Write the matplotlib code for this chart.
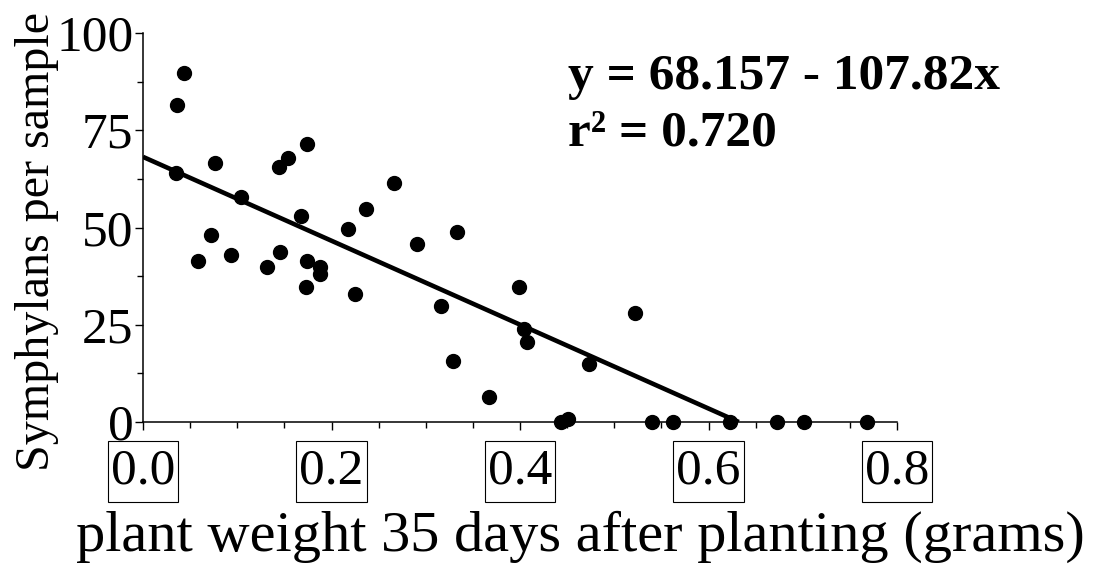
import matplotlib
matplotlib.use("Agg")
import matplotlib.pyplot as plt
import numpy as np
from matplotlib.ticker import MultipleLocator
from matplotlib.path import Path

plant_weight = [0.043, 0.036, 0.035, 0.076, 0.104, 0.144, 0.154, 0.174, 0.266, 0.237,
                0.218, 0.168, 0.072, 0.058, 0.093, 0.132, 0.145, 0.174, 0.188, 0.188,
                0.173, 0.225, 0.291, 0.333, 0.316, 0.329, 0.367, 0.399, 0.404, 0.407,
                0.473, 0.522, 0.444, 0.451, 0.540, 0.562, 0.623, 0.673, 0.701, 0.768]
symphylans = [89.8, 81.5, 63.9, 66.5, 57.9, 65.6, 67.9, 71.5, 61.5, 54.7,
              49.6, 53.0, 48.1, 41.5, 42.9, 39.8, 43.8, 41.5, 39.8, 38.0,
              34.8, 32.9, 45.7, 48.8, 29.7, 15.7, 6.5, 34.8, 23.9, 20.6,
              14.8, 27.9, 0.0, 0.7, 0.0, 0.0, 0.0, 0.0, 0.0, 0.0]
intercept = 68.157
slope = -107.82
r2 = 0.720
x_ticks = [0.0, 0.2, 0.4, 0.6, 0.8]
x_tick_labels = ["0.0", "0.2", "0.4", "0.6", "0.8"]
y_ticks = [0, 25, 50, 75, 100]
y_tick_labels = ["0", "25", "50", "75", "100"]

plt.rcParams['font.family'] = ['Liberation Serif', 'DejaVu Serif']


def tall_box(x0, y0, width, height, mutation_size):
    px = 0.06 * mutation_size
    py = 0.14 * mutation_size
    x0, y0 = x0 - px, y0 - py
    x1, y1 = x0 + width + 2 * px, y0 + height + 2 * py
    return Path([(x0, y0), (x1, y0), (x1, y1), (x0, y1), (x0, y0)], closed=True)


fig = plt.figure(figsize=(10.95, 5.79), dpi=100)
ax = fig.add_axes([143/1095, 157/579, (897-143)/1095, (422-33)/579])

ax.plot(plant_weight, symphylans, 'o', color='black', ms=10, zorder=3, clip_on=False)
x_end = -intercept / slope
xl = np.array([0.0, x_end])
ax.plot(xl, intercept + slope * xl, color='black', lw=3.3, solid_capstyle='butt', zorder=2)

ax.set_xlim(0, 0.8)
ax.set_ylim(0, 100)
for s in ['top', 'right']:
    ax.spines[s].set_visible(False)
for s in ['left', 'bottom']:
    ax.spines[s].set_linewidth(1.1)

ax.set_xticks(x_ticks)
ax.set_xticklabels(x_tick_labels)
ax.set_yticks(y_ticks)
ax.set_yticklabels(y_tick_labels)
ax.xaxis.set_minor_locator(MultipleLocator(0.05))
ax.yaxis.set_minor_locator(MultipleLocator(12.5))
ax.tick_params(which='major', length=6, width=1.0, direction='out', labelsize=37)
ax.tick_params(which='minor', length=4, width=1.0, direction='out')
ax.tick_params(axis='y', pad=1)
ax.tick_params(axis='x', pad=13)
for lab in ax.get_xticklabels():
    lab.set_bbox(dict(boxstyle=tall_box, fc='none', ec='black', lw=0.8))

ax.set_xlabel("plant weight 35 days after planting (grams)", fontsize=42)
ax.xaxis.set_label_coords(0.58, -0.228)
ax.set_ylabel("Symphylans per sample", fontsize=34.6)
ax.yaxis.set_label_coords(-0.112, 0.465)

ax.text(0.451, 85.6, "y = 68.157 - 107.82x", fontsize=37, fontweight='bold', ha='left', va='baseline')
ax.text(0.451, 71.0, "r\u00b2 = %.3f" % r2, fontsize=37, fontweight='bold', ha='left', va='baseline')

fig.savefig("out.png", dpi=100)
